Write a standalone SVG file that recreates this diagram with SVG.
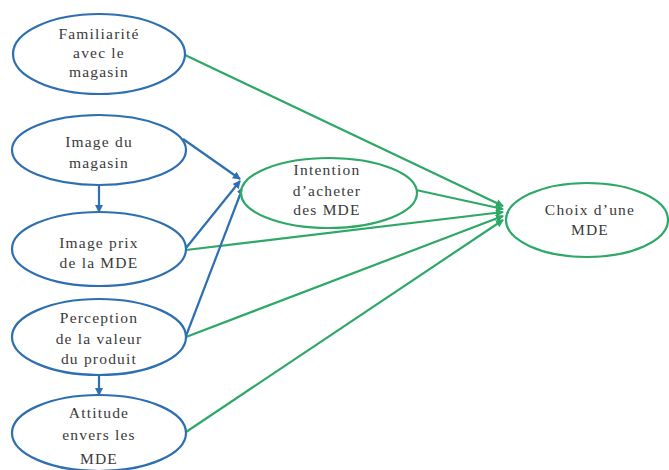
<svg xmlns="http://www.w3.org/2000/svg" width="669" height="470" viewBox="0 0 669 470">
<style>
.blue{fill:#fff;stroke:#2e6fb0;stroke-width:2.2}
.green{fill:#fff;stroke:#2ea866;stroke-width:2.2}
.t{font-family:"Times New Roman","Liberation Serif","DejaVu Serif",serif;font-size:15.5px;letter-spacing:1.2px;fill:#3a3a3a;text-anchor:middle}
.cb{stroke:#2e6fb0;stroke-width:2.2;fill:none;marker-end:url(#ab)}
.cg{stroke:#2ea866;stroke-width:2.2;fill:none;marker-end:url(#ag)}
</style>
<defs>
<marker id="ab" markerWidth="8" markerHeight="8" refX="7" refY="4" orient="auto" markerUnits="userSpaceOnUse"><path d="M0,0 L8,4 L0,8 z" fill="#2e6fb0"/></marker>
<marker id="ag" markerWidth="8" markerHeight="8" refX="7" refY="4" orient="auto" markerUnits="userSpaceOnUse"><path d="M0,0 L8,4 L0,8 z" fill="#2ea866"/></marker>
</defs>
<rect width="669" height="470" fill="#fff"/>
<g id="connectors">
<path class="cg" d="M185,55 L503,206"/>
<path class="cg" d="M416,190 L503,209"/>
<path class="cg" d="M186,250 L503,212"/>
<path class="cg" d="M186,337 L503,216"/>
<path class="cg" d="M186,432 L503,220"/>
<path class="cb" d="M183,139 L240,179"/>
<path class="cb" d="M186,248 L240,181"/>
<path class="cb" d="M186,336 L243,187"/>
<path class="cb" d="M99,185 L99,212"/>
<path class="cb" d="M99,375 L99,395"/>
</g>
<g class="t">
<g id="familiarite"><ellipse class="blue" cx="99" cy="54" rx="86" ry="40"/><text class="t" x="99" y="39">Familiarité</text><text class="t" x="99" y="58">avec le</text><text class="t" x="99" y="77">magasin</text></g>
<g id="image-magasin"><ellipse class="blue" cx="99" cy="150" rx="87" ry="35"/><text class="t" x="99" y="147">Image du</text><text class="t" x="99" y="168">magasin</text></g>
<g id="image-prix"><ellipse class="blue" cx="99" cy="249" rx="87" ry="37"/><text class="t" x="99" y="248">Image prix</text><text class="t" x="99" y="268">de la MDE</text></g>
<g id="perception"><ellipse class="blue" cx="99" cy="337" rx="87" ry="38"/><text class="t" x="99" y="323">Perception</text><text class="t" x="99" y="344">de la valeur</text><text class="t" x="99" y="364">du produit</text></g>
<g id="attitude"><ellipse class="blue" cx="99" cy="433" rx="87" ry="38"/><text class="t" x="99" y="418">Attitude</text><text class="t" x="99" y="440">envers les</text><text class="t" x="99" y="464">MDE</text></g>
<g id="intention"><ellipse class="green" cx="329" cy="193" rx="88" ry="35"/><text class="t" x="327" y="175">Intention</text><text class="t" x="327" y="196">d’acheter</text><text class="t" x="327" y="215">des MDE</text></g>
<g id="choix"><ellipse class="green" cx="587" cy="220" rx="81" ry="37"/><text class="t" x="590" y="215">Choix d’une</text><text class="t" x="590" y="235">MDE</text></g>
</g>
</svg>
